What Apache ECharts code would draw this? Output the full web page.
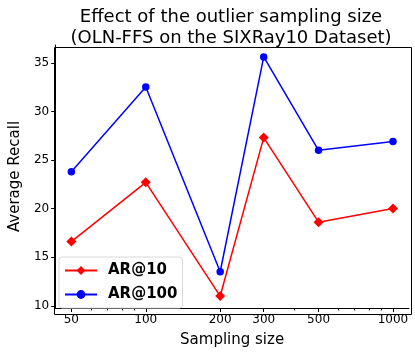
<!DOCTYPE html>
<html>
<head>
<meta charset="utf-8">
<script src="https://cdn.jsdelivr.net/npm/echarts@6/dist/echarts.min.js"></script>
<style>
  html, body { margin: 0; padding: 0; background: #fff; }
  #chart { width: 415px; height: 353px; }
</style>
</head>
<body>
<div id="chart"></div>
<script>
// sampling sizes on a log x axis
const sizes = [50, 100, 200, 300, 500, 1000];
const ar10 = [16.6, 22.7, 11.0, 27.3, 18.6, 20.0];
const ar100 = [23.8, 32.5, 13.5, 35.6, 26.0, 26.9];
const yTicks = [10, 15, 20, 25, 30, 35];
const xMinorTicks = [60, 70, 80, 90, 400, 600, 700, 800, 900];

const font = 'DejaVu Sans';
const chart = echarts.init(document.getElementById('chart'));

const pair = vals => sizes.map((s, i) => [s, vals[i]]);

chart.setOption({
  animation: false,
  title: {
    text: 'Effect of the outlier sampling size\n(OLN-FFS on the SIXRay10 Dataset)',
    left: 226, top: 2, textAlign: 'center',
    textStyle: { fontFamily: font, fontSize: 18, fontWeight: 'normal', color: '#000', lineHeight: 21 }
  },
  grid: { left: 52, right: 6, top: 45, bottom: 41 },
  legend: {
    left: 59, top: 257, orient: 'vertical',
    itemWidth: 32, itemHeight: 11, itemGap: 9,
    padding: [6, 5, 6, 5],
    borderColor: '#d8d8d8', borderWidth: 1, borderRadius: 3,
    backgroundColor: 'rgba(255,255,255,0.8)',
    textStyle: { fontFamily: font, fontSize: 15, fontWeight: 'bold', color: '#000', padding: [0, 0, 0, 6] },
    data: ['AR@10', 'AR@100']
  },
  xAxis: [{
    type: 'log', min: 43, max: 1161,
    name: 'Sampling size', nameLocation: 'middle', nameGap: 25,
    nameTextStyle: { fontFamily: font, fontSize: 15, color: '#000' },
    axisLine: { lineStyle: { color: '#000', width: 1 } },
    axisTick: { customValues: sizes, length: 4, lineStyle: { color: '#000' } },
    axisLabel: {
      customValues: sizes, fontFamily: font, fontSize: 12, color: '#000', margin: 6,
      formatter: v => String(Math.round(v))
    },
    splitLine: { show: false }
  }, {
    type: 'log', min: 43, max: 1161, position: 'bottom',
    axisLine: { show: false },
    axisTick: { customValues: xMinorTicks, length: 2.5, lineStyle: { color: '#000' } },
    axisLabel: { show: false },
    splitLine: { show: false }
  }],
  yAxis: {
    type: 'value', min: 9.77, max: 36.83,
    name: 'Average Recall', nameLocation: 'middle', nameGap: 27,
    nameTextStyle: { fontFamily: font, fontSize: 15, color: '#000' },
    axisLine: { show: true, lineStyle: { color: '#000', width: 1 } },
    axisTick: { show: true, customValues: yTicks, length: 4, lineStyle: { color: '#000' } },
    axisLabel: { customValues: yTicks, fontFamily: font, fontSize: 12, color: '#000', margin: 6 },
    splitLine: { show: false }
  },
  series: [{
    name: 'AR@10', type: 'line', data: pair(ar10),
    symbol: 'diamond', symbolSize: 10,
    itemStyle: { color: '#ff0000' },
    lineStyle: { color: '#ff0000', width: 1.5 }
  }, {
    name: 'AR@100', type: 'line', data: pair(ar100),
    symbol: 'circle', symbolSize: 7.5,
    itemStyle: { color: '#0000ff' },
    lineStyle: { color: '#0000ff', width: 1.5 }
  }],
  graphic: [{
    // closing frame on top and right like the matplotlib axes box
    type: 'rect', left: 52, top: 45, silent: true,
    shape: { width: 357, height: 267 },
    style: { fill: 'none', stroke: '#000', lineWidth: 1 }
  }]
});
</script>
</body>
</html>
